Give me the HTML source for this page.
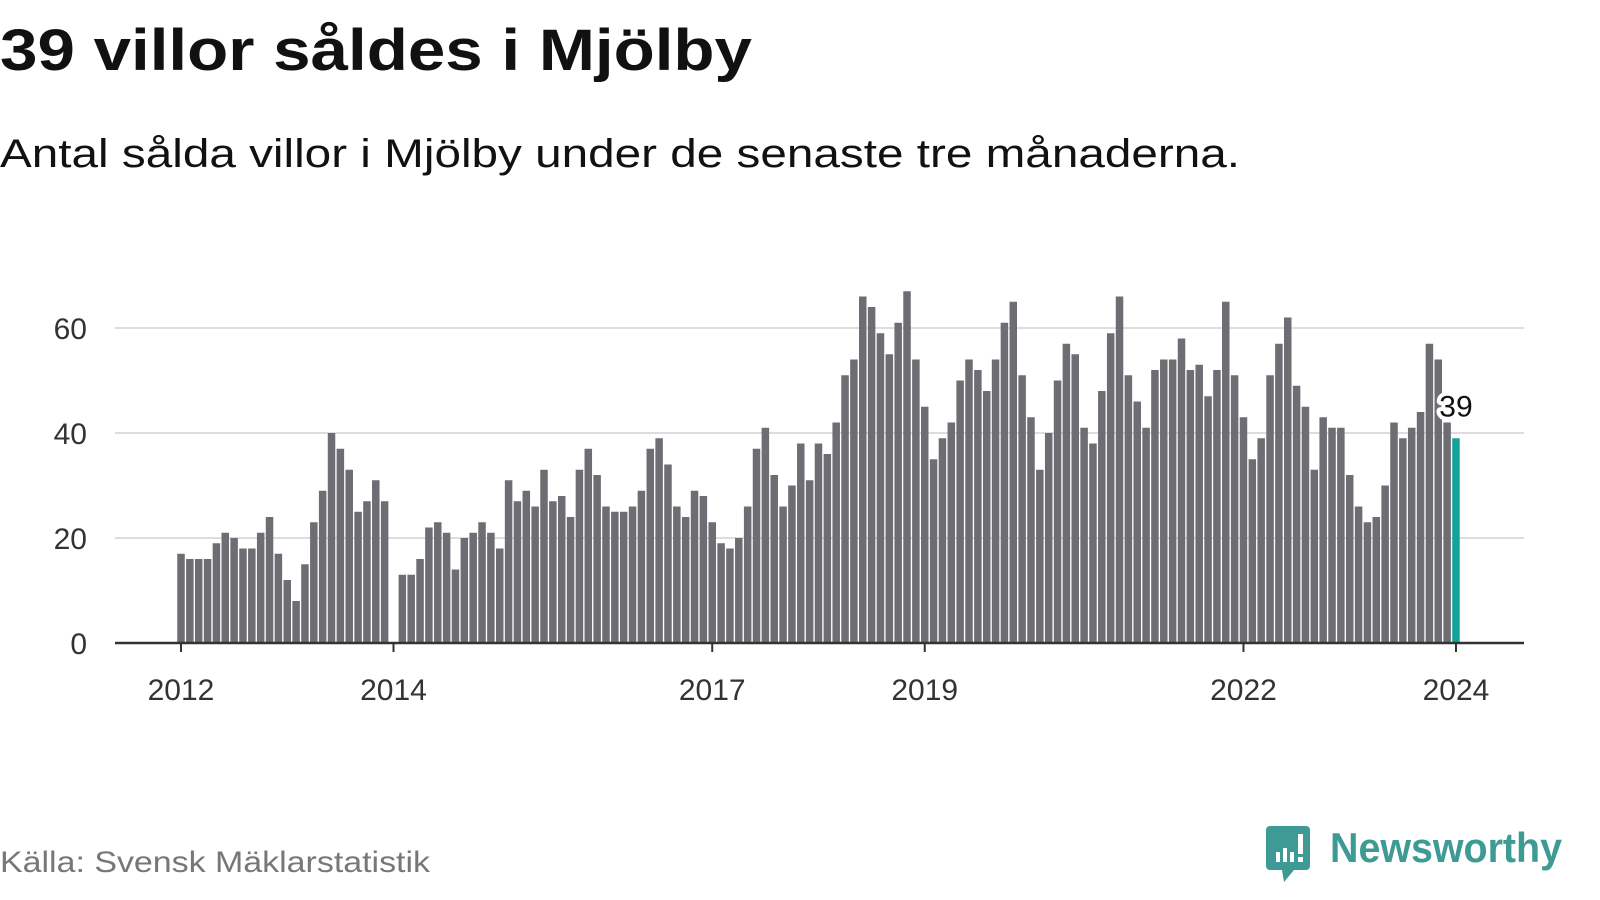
<!DOCTYPE html>
<html><head><meta charset="utf-8"><style>
html,body{margin:0;padding:0;background:#fff;width:1600px;height:900px;overflow:hidden}
svg{display:block}
text{font-family:"Liberation Sans",sans-serif}
</style></head><body>
<svg id="chart" width="1600" height="900" viewBox="0 0 1600 900">
<text x="0" y="70" font-size="58" font-weight="bold" fill="#111" textLength="752" lengthAdjust="spacingAndGlyphs">39 villor såldes i Mjölby</text>
<text x="0" y="167" font-size="40" fill="#111" textLength="1240" lengthAdjust="spacingAndGlyphs">Antal sålda villor i Mjölby under de senaste tre månaderna.</text>
<g id="grid"></g>
<g id="bars"></g>
<g id="axes"></g>
<text x="0" y="872" font-size="30" fill="#777" textLength="430" lengthAdjust="spacingAndGlyphs">Källa: Svensk Mäklarstatistik</text>
<g>
<path d="M1270 826 h36 a4 4 0 0 1 4 4 v36 a4 4 0 0 1 -4 4 h-12 l-10 12 l-2 -12 h-12 a4 4 0 0 1 -4 -4 v-36 a4 4 0 0 1 4 -4z" fill="#3d9a94"/>
<rect x="1276" y="852" width="4" height="10" fill="#fff"/><rect x="1283" y="848" width="4" height="14" fill="#fff"/><rect x="1290" y="852" width="4" height="10" fill="#fff"/><rect x="1298" y="834" width="5" height="20" fill="#fff"/><rect x="1298" y="857" width="5" height="5" fill="#fff"/>
<text x="1330" y="862" font-size="42" font-weight="bold" fill="#3d9a94" textLength="232" lengthAdjust="spacingAndGlyphs">Newsworthy</text>
</g>
</svg>
<script>
const startYear = 2012;
const values = [
17,16,16,16,19,21,20,18,18,21,24,17,
12,8,15,23,29,40,37,33,25,27,31,27,
0,13,13,16,22,23,21,14,20,21,23,21,
18,31,27,29,26,33,27,28,24,33,37,32,
26,25,25,26,29,37,39,34,26,24,29,28,
23,19,18,20,26,37,41,32,26,30,38,31,
38,36,42,51,54,66,64,59,55,61,67,54,
45,35,39,42,50,54,52,48,54,61,65,51,
43,33,40,50,57,55,41,38,48,59,66,51,
46,41,52,54,54,58,52,53,47,52,65,51,
43,35,39,51,57,62,49,45,33,43,41,41,
32,26,23,24,30,42,39,41,44,57,54,42,
39];
const yTicks = [0,20,40,60];
const xTickYears = [2012,2014,2017,2019,2022,2024];
const NS = "http://www.w3.org/2000/svg";
const x0 = 181, monthW = 8.854, y0 = 643, unit = 5.25;
function xScale(i){ return x0 + i*monthW; }
function yScale(v){ return y0 - v*unit; }
function mk(tag, attrs, parent){ const e=document.createElementNS(NS,tag); for(const k in attrs) e.setAttribute(k,attrs[k]); parent.appendChild(e); return e; }
const grid=document.getElementById('grid'), bars=document.getElementById('bars'), axes=document.getElementById('axes');
yTicks.forEach(t=>{
  if(t>0){ const l=mk('line',{x1:115,x2:1524,y1:yScale(t),y2:yScale(t),stroke:'#dddddd','stroke-width':2},grid);
  
   }
  const tx=mk('text',{x:87,y:yScale(t)+11,'font-size':30,fill:'#333','text-anchor':'end'},axes);
  tx.textContent=t;
  
  
});
values.forEach((v,i)=>{
  if(v<=0) return;
  const last = i===values.length-1;
  const r=mk('rect',{x:xScale(i)-3.75,y:yScale(v),width:7.5,height:v*unit,fill:last?'#14a39a':'#6e6d73'},bars);
  
  
});
const al=mk('line',{x1:115,x2:1524,y1:y0,y2:y0,stroke:'#333','stroke-width':2.5},axes);


xTickYears.forEach(y=>{
  const xi = xScale((y-startYear)*12);
  const tk=mk('line',{x1:xi,x2:xi,y1:y0,y2:y0+9,stroke:'#333','stroke-width':2},axes);
  
  
  const tx=mk('text',{x:xi,y:700,'font-size':30,fill:'#333','text-anchor':'middle'},axes);
  tx.textContent=y;
  
  
});
const li=values.length-1;
const lab=mk('text',{x:xScale(li),y:yScale(values[li])-22,'font-size':30,fill:'#111','text-anchor':'middle',stroke:'#fff','stroke-width':8,'paint-order':'stroke','stroke-linejoin':'round'},axes);
lab.textContent=values[li];


</script>
</body></html>
